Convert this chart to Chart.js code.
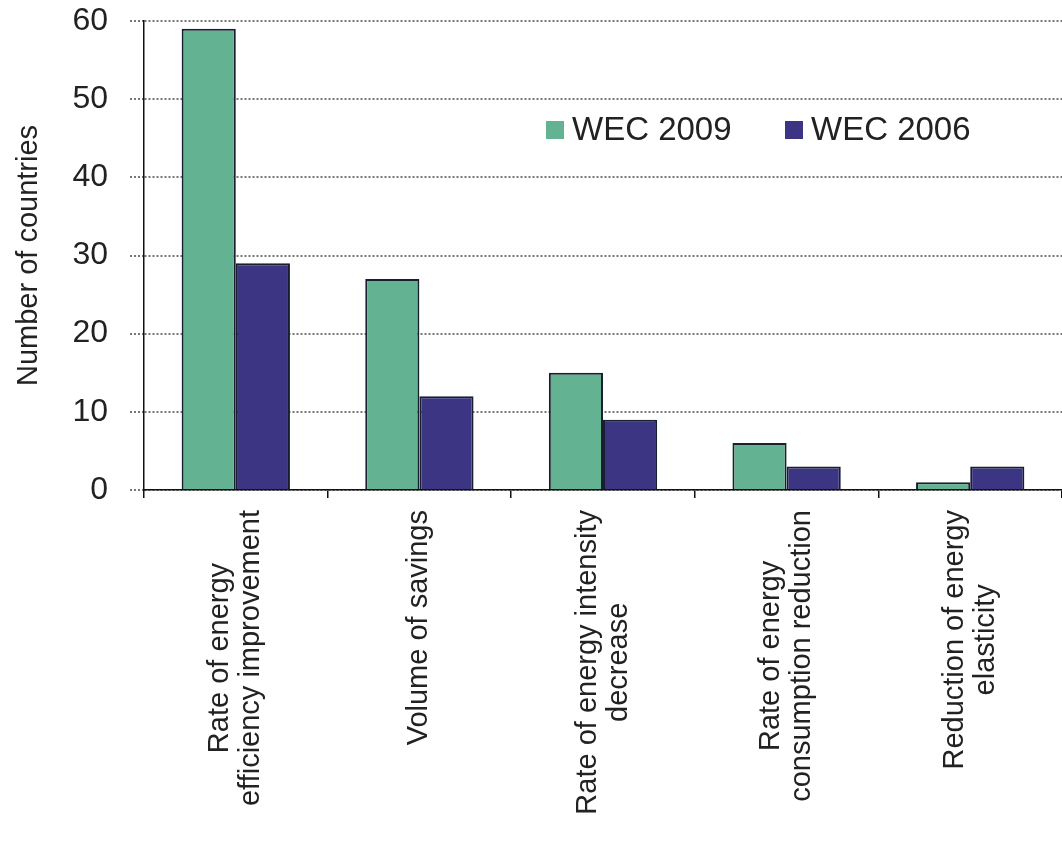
<!DOCTYPE html>
<html>
<head>
<meta charset="utf-8">
<title>Energy efficiency targets</title>
<script src="https://cdn.jsdelivr.net/npm/chart.js@4.4.1/dist/chart.umd.min.js"></script>
<style>
  html, body { margin: 0; padding: 0; background: #fff; }
</style>
</head>
<body>
<canvas id="chart" width="1062" height="853"></canvas>
<script>
// Chart data
const categories = [
    ['Rate of energy', 'efficiency improvement'],
    ['Volume of savings'],
    ['Rate of energy intensity', 'decrease'],
    ['Rate of energy', 'consumption reduction'],
    ['Reduction of energy', 'elasticity']
];
const seriesNames = ['WEC 2009', 'WEC 2006'];
const wec2009 = [59, 27, 15, 6, 1];
const wec2006 = [29, 12, 9, 3, 3];
const yTicks = [0, 10, 20, 30, 40, 50, 60];

const FONT = '"Liberation Sans", Arial, sans-serif';
const TEXT = '#222';

// Rotated category labels, lines centred on each other like the original
const xLabelPlugin = {
    id: 'xLabels',
    afterDraw(chart) {
        const ctx = chart.ctx;
        const xs = chart.scales.x;
        const lh = 31;
        ctx.save();
        ctx.font = '29px ' + FONT;
        ctx.fillStyle = TEXT;
        ctx.textAlign = 'center';
        ctx.textBaseline = 'middle';
        categories.forEach((lines, i) => {
            const px = xs.getPixelForValue(i);
            const widest = Math.max(...lines.map(l => ctx.measureText(l).width));
            const cy = xs.top + 20 + widest / 2;
            ctx.save();
            ctx.translate(px, cy);
            ctx.rotate(-Math.PI / 2);
            lines.forEach((line, k) => {
                ctx.fillText(line, 0, (k - (lines.length - 1) / 2) * lh);
            });
            ctx.restore();
        });
        ctx.restore();
    }
};

// Legend sits inside the plot, upper right
const legendPlugin = {
    id: 'innerLegend',
    afterDraw(chart) {
        const ctx = chart.ctx;
        const xs = [546, 785];
        const top = 121;
        ctx.save();
        ctx.font = '33px ' + FONT;
        ctx.textBaseline = 'middle';
        ctx.textAlign = 'left';
        chart.data.datasets.forEach((ds, i) => {
            ctx.fillStyle = ds.backgroundColor;
            ctx.fillRect(xs[i], top, 18, 18);
            ctx.fillStyle = TEXT;
            ctx.fillText(ds.label, xs[i] + 26, top + 10);
        });
        ctx.restore();
    }
};

Chart.defaults.font.family = FONT;
Chart.defaults.color = TEXT;

new Chart(document.getElementById('chart').getContext('2d'), {
    type: 'bar',
    data: {
        labels: categories.map(c => c.join(' ')),
        datasets: [{
            label: seriesNames[0],
            data: wec2009,
            backgroundColor: '#63b292',
            borderColor: '#18202f',
            borderWidth: 2
        }, {
            label: seriesNames[1],
            data: wec2006,
            backgroundColor: '#3b3583',
            borderColor: '#18202f',
            borderWidth: 2
        }]
    },
    options: {
        responsive: false,
        animation: false,
        layout: { padding: { top: 21, right: 0, bottom: 0, left: 0 } },
        plugins: {
            legend: { display: false },
            tooltip: { enabled: false }
        },
        datasets: {
            bar: { categoryPercentage: 0.59, barPercentage: 1.0 }
        },
        scales: {
            x: {
                afterFit: s => { s.height = 363; },
                ticks: { display: false },
                grid: {
                    drawOnChartArea: false,
                    drawTicks: true,
                    tickLength: 8,
                    color: '#111',
                    lineWidth: 1.5,
                    offset: true
                },
                border: { color: '#111', width: 1.5 }
            },
            y: {
                min: 0,
                max: 60,
                afterBuildTicks: s => { s.ticks = yTicks.map(v => ({ value: v })); },
                afterFit: s => {
                    s.width = 144;
                    s.paddingTop = 0;
                    s.paddingBottom = 0;
                },
                ticks: {
                    padding: 22,
                    color: TEXT,
                    font: { size: 32 }
                },
                title: {
                    display: true,
                    text: 'Number of countries',
                    color: TEXT,
                    font: { size: 29 },
                    padding: { top: 12, bottom: 0 }
                },
                grid: {
                    color: '#777',
                    lineWidth: 2,
                    tickLength: 14,
                    tickColor: '#777',
                    tickBorderDash: [2, 2]
                },
                border: { color: '#111', width: 1.5, dash: [2, 2] }
            }
        }
    },
    plugins: [xLabelPlugin, legendPlugin]
});
</script>
</body>
</html>
